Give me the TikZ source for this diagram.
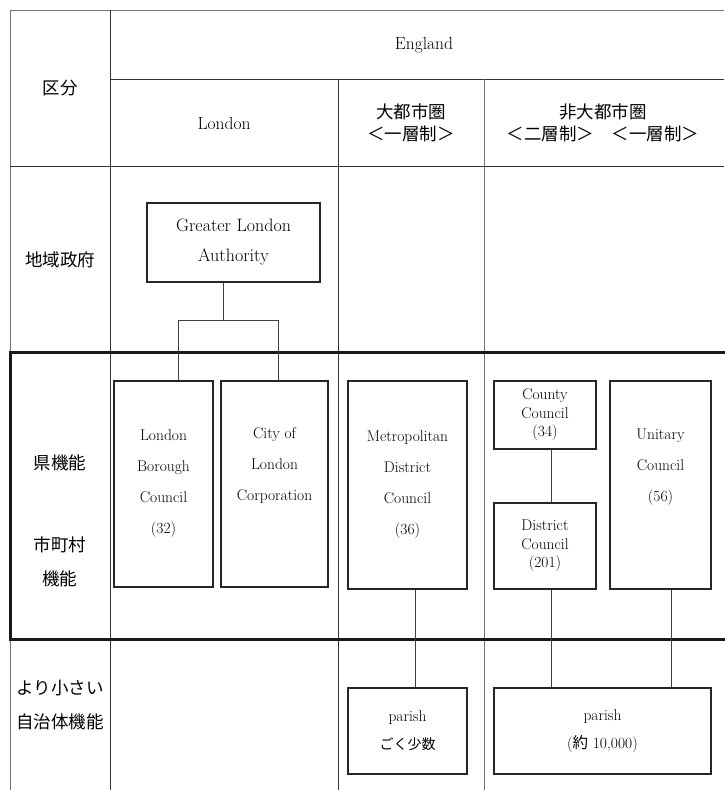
\documentclass[tikz,border=0pt]{standalone}
\usepackage{fontspec}
\newfontfamily\jp{Noto Sans CJK JP}
\begin{document}
\begin{tikzpicture}[x=1pt, y=-1pt,
		rule/.style={line width=0.9pt, black!80},
		outer/.style={line width=0.9pt, black!55},
		heavy/.style={line width=3pt, black!90},
		box/.style={draw=black!85, line width=1.3pt, align=center, inner sep=0pt},
		conn/.style={line width=0.9pt, black!75},
		head/.style={font=\fontsize{17.5}{22}\selectfont},
		jlabel/.style={font=\jp\fontsize{17.5}{34}\selectfont, align=center},
		btext/.style={font=\fontsize{15.5}{31}\selectfont},
		tight/.style={font=\fontsize{15.5}{18.5}\selectfont}]
			\useasboundingbox (0,0) rectangle (724,790);
			% table lines
			\draw[outer] (724,10) -- (10,10) -- (10,790);
			\draw[rule] (110,10) -- (110,790);
			\draw[rule] (110,79) -- (724,79);
			\draw[rule] (338,79) -- (338,790);
			\draw[outer] (484,79) -- (484,790);
			\draw[rule] (10,166) -- (724,166);
			\draw[heavy] (726,352) -- (10,352) -- (10,639) -- (726,639);
			% headings
			\node[head] (england) at (424,45) {England};
			\node[head] (london) at (224,123) {London};
			\node[jlabel] (kubun) at (60,88) {区分};
			\node[jlabel, font=\jp\fontsize{17.5}{22}\selectfont] (metrohead) at (411,123) {大都市圏\\＜一層制＞};
			\node[jlabel, font=\jp\fontsize{17.5}{22}\selectfont] (nonmetrohead) at (603,123) {非大都市圏\\＜二層制＞　＜一層制＞};
			\node[jlabel] (region) at (60,260) {地域政府};
			\node[jlabel] (county fn) at (60,463) {県機能};
			\node[jlabel] (muni fn) at (60,562) {市町村\\機能};
			\node[jlabel] (smaller fn) at (60,705) {より小さい\\自治体機能};
			% bodies
			\node[box, minimum width=173, minimum height=79, font=\fontsize{18}{30}\selectfont] (gla) at (233.5,242.5) {Greater London\\Authority};
			\node[box, minimum width=99, minimum height=206, btext, align=center] (lbc) at (163.5,484) {London\\Borough\\Council\\(32)};
			\node[box, minimum width=107, minimum height=206, btext, align=center] (city) at (274.5,484) {City of\\London\\Corporation\\\strut};
			\node[box, minimum width=119, minimum height=208, btext, align=center] (metro) at (407.5,485) {Metropolitan\\District\\Council\\(36)};
			\node[box, minimum width=102, minimum height=68, tight, align=center] (county) at (545,415) {County\\Council\\(34)};
			\node[box, minimum width=102, minimum height=86, tight, align=center] (district) at (545,546) {District\\Council\\(201)};
			\node[box, minimum width=101, minimum height=208, btext, align=center] (unitary) at (660.5,485) {Unitary\\Council\\(56)\\\strut};
			\node[box, minimum width=119, minimum height=86, font=\fontsize{15.5}{28}\selectfont, align=center] (parishS) at (407.5,731) {parish\\{\jp\fontsize{14}{28}\selectfont ごく少数}};
			\node[box, minimum width=217, minimum height=86, font=\fontsize{15.5}{28}\selectfont, align=center] (parishL) at (602.5,731) {parish\\({\jp 約} 10,000)};
			% connectors
			\coordinate (forkL) at (178,320);
			\coordinate (forkR) at (278,320);
			\draw[conn] ([xshift=-10.5]gla.south) -- ([xshift=-10.5]gla.south |- forkL);
			\draw[conn] (forkL |- lbc.north) -- (forkL) -- (forkR) -- (forkR |- city.north);
			\draw[conn] ([xshift=7.5]metro.south) -- ([xshift=7.5]metro.south |- parishS.north);
			\draw[conn] ([xshift=6]county.south) -- ([xshift=6]district.north);
			\draw[conn] ([xshift=6]district.south) -- ([xshift=6]district.south |- parishL.north);
			\draw[conn] ([xshift=10.5]unitary.south) -- ([xshift=10.5]unitary.south |- parishL.north);
\end{tikzpicture}
\end{document}
